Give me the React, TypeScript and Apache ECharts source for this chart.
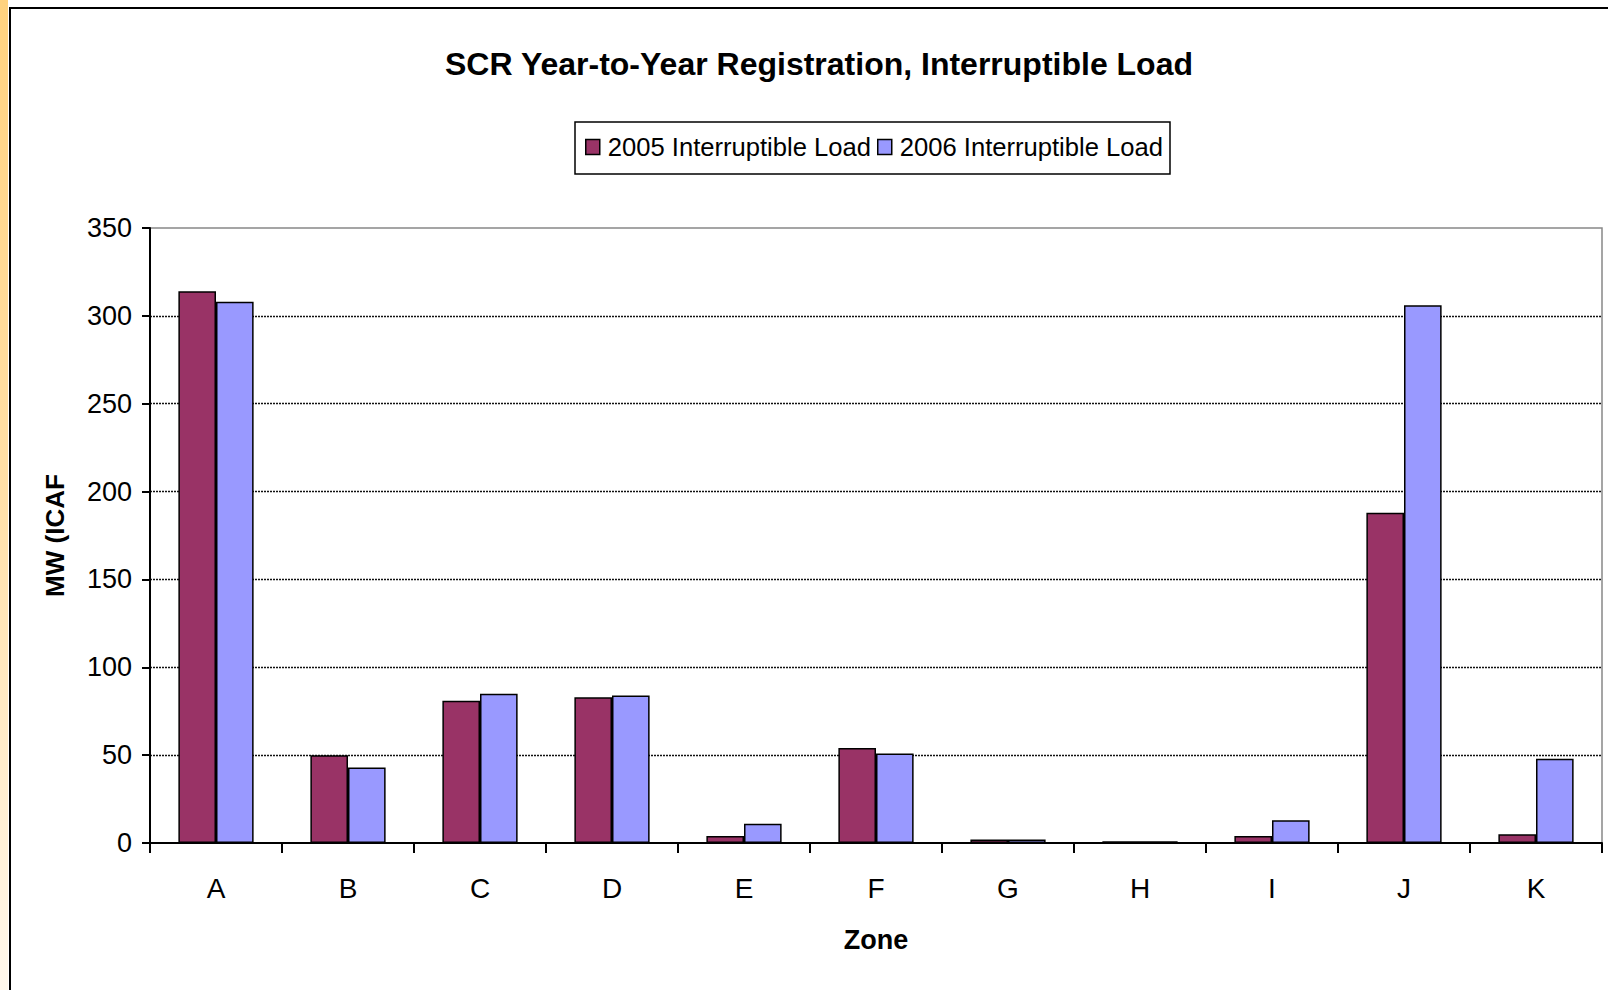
import React, { useEffect, useRef } from "react";
import * as echarts from "echarts";

const categories = ["A", "B", "C", "D", "E", "F", "G", "H", "I", "J", "K"];
const load2005 = [314, 50, 81, 83, 4, 54, 2, 1, 4, 188, 5];
const load2006 = [308, 43, 85, 84, 11, 51, 2, 1, 13, 306, 48];
const seriesNames = ["2005 Interruptible Load", "2006 Interruptible Load"];
const yTicks = { min: 0, max: 350, interval: 50 };

const FONT = "'Liberation Sans', Arial, sans-serif";

export default function App() {
  const ref = useRef<HTMLDivElement>(null);
  useEffect(() => {
    if (!ref.current) return;
    const chart = echarts.init(ref.current, null, { renderer: "svg" });
    chart.setOption({
      animation: false,
      backgroundColor: "#ffffff",
      title: {
        text: "SCR Year-to-Year Registration, Interruptible Load",
        left: 814,
        top: 43,
        textAlign: "center",
        textStyle: { fontFamily: FONT, fontWeight: "bold", fontSize: 32, color: "#000" },
      },
      legend: {
        data: seriesNames,
        left: 575,
        top: 122,
        orient: "horizontal",
        itemGap: 6,
        itemWidth: 14,
        itemHeight: 15,
        icon: "rect",
        borderColor: "#000",
        borderWidth: 1.5,
        padding: [12, 7, 14, 10],
        textStyle: { fontFamily: FONT, fontSize: 25.6, color: "#000", padding: [0, 0, 0, 3] },
        itemStyle: { borderColor: "#000", borderWidth: 1.5 },
      },
      grid: {
        left: 150,
        top: 228,
        width: 1452,
        height: 615,
        show: true,
        borderColor: "#888",
        borderWidth: 1.5,
        backgroundColor: "transparent",
      },
      xAxis: {
        type: "category",
        data: categories,
        name: "Zone",
        nameLocation: "middle",
        nameGap: 83,
        nameTextStyle: { fontFamily: FONT, fontWeight: "bold", fontSize: 27, color: "#000" },
        axisLine: { lineStyle: { color: "#000", width: 2 } },
        axisTick: { show: true, alignWithLabel: false, length: 10, lineStyle: { color: "#000", width: 2 } },
        axisLabel: { fontFamily: FONT, fontSize: 28, color: "#000", margin: 31 },
      },
      yAxis: {
        type: "value",
        min: yTicks.min,
        max: yTicks.max,
        interval: yTicks.interval,
        name: "MW (ICAF",
        nameLocation: "middle",
        nameGap: 82,
        nameRotate: 90,
        nameTextStyle: { fontFamily: FONT, fontWeight: "bold", fontSize: 26, color: "#000" },
        axisLine: { show: true, lineStyle: { color: "#000", width: 2 } },
        axisTick: { show: true, length: 8, lineStyle: { color: "#000", width: 2 } },
        axisLabel: { fontFamily: FONT, fontSize: 27, color: "#000", margin: 18 },
        splitLine: {
          show: true,
          showMinLine: false,
          showMaxLine: false,
          lineStyle: { color: "#111", width: 1.3, type: [2, 1] },
        },
      },
      series: [
        {
          name: seriesNames[0],
          type: "bar",
          data: load2005,
          barGap: "0%",
          barCategoryGap: "43%",
          itemStyle: { color: "#993366", borderColor: "#000", borderWidth: 1.5 },
        },
        {
          name: seriesNames[1],
          type: "bar",
          data: load2006,
          barGap: "0%",
          barCategoryGap: "43%",
          itemStyle: { color: "#9999FF", borderColor: "#000", borderWidth: 1.5 },
        },
      ],
      graphic: [
        {
          type: "rect",
          shape: { x: 0, y: 0, width: 8, height: 990 },
          style: {
            fill: new echarts.graphic.LinearGradient(0, 0, 0, 1, [
              { offset: 0, color: "#FFD27F" },
              { offset: 0.5, color: "#FFE0A8" },
              { offset: 1, color: "#FFF8EC" },
            ]),
          },
          silent: true,
        },
        {
          type: "rect",
          shape: { x: 10, y: 8, width: 1700, height: 1100 },
          style: { fill: "none", stroke: "#000", lineWidth: 2 },
          silent: true,
        },
      ],
    });
    return () => chart.dispose();
  }, []);
  return (
    <div
      ref={ref}
      style={{ position: "absolute", left: 0, top: 0, width: 1608, height: 990, background: "#fff" }}
    />
  );
}
